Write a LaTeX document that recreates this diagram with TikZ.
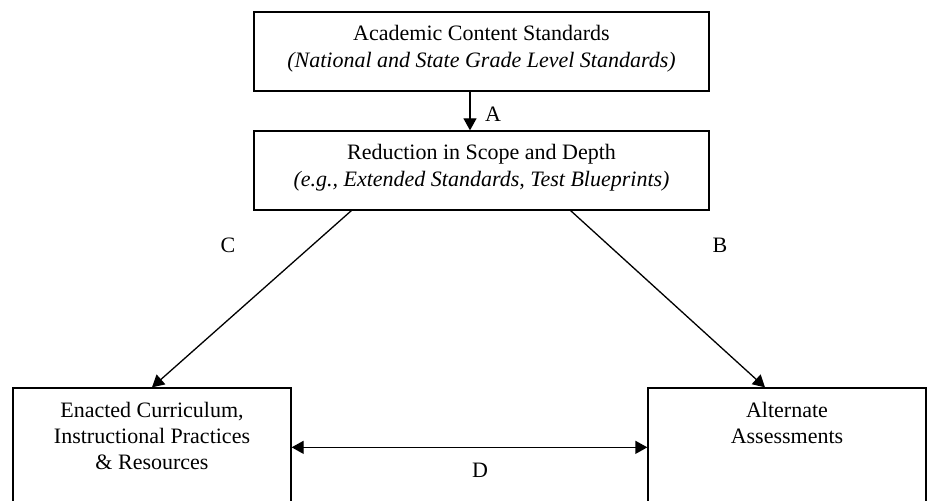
\documentclass[tikz,border=0pt]{standalone}
\usepackage{fontspec}
\setmainfont{Liberation Serif}
\usetikzlibrary{arrows.meta}

\begin{document}
\begin{tikzpicture}[x=0.5pt,y=0.5pt,yscale=-1,xscale=1,
  font=\fontsize{11}{13.5}\selectfont,
  widebox/.style={draw, line width=0.65pt, minimum width=227.5pt, minimum height=39.5pt, inner sep=0pt, align=center},
  tallbox/.style={draw, line width=0.65pt, minimum width=139pt, minimum height=71pt, inner sep=0pt},
  boxtext/.style={anchor=north, inner sep=0pt, align=center, font=\fontsize{11}{13}\selectfont},
  lbl/.style={inner sep=0pt},
  arr/.style={line width=0.65pt, -{Triangle[length=6pt,width=6.5pt]}},
  dblarr/.style={line width=0.65pt, {Triangle[length=6pt,width=6.5pt]}-{Triangle[length=6pt,width=6.5pt]}}]
\clip (0,0) rectangle (934,501);

%Shape: Rectangle [id:acs]
\node[widebox] (acs) at (481.5,51.5) {Academic Content Standards\\ \textit{(National and State Grade Level Standards)}\\[-8.5pt]};
%Shape: Rectangle [id:red]
\node[widebox] (red) at (481.5,170.5) {Reduction in Scope and Depth\\ \textit{(e.g., Extended Standards, Test Blueprints)}\\[-8.5pt]};
%Shape: Rectangle [id:enact]
\node[tallbox] (enact) at (152,459) {};
%Shape: Rectangle [id:alt]
\node[tallbox] (alt) at (787,459) {};

% Text Node
\node[boxtext] (enacttext) at ([yshift=7pt]enact.north) {Enacted Curriculum,\\ Instructional Practices\\ \& Resources};
% Text Node
\node[boxtext] (alttext) at ([yshift=7pt]alt.north) {Alternate\\ Assessments};

%Straight Lines [id:A]
\draw[arr] ([xshift=-5.75pt]acs.south) -- ([xshift=-5.75pt]red.north);
%Straight Lines [id:C]
\draw[arr] ([xshift=49pt]red.south west) -- (enact.north);
%Straight Lines [id:B]
\draw[arr] ([xshift=-69.5pt]red.south east) -- ([xshift=-11pt]alt.north);
%Straight Lines [id:D]
\draw[dblarr] ([yshift=30pt]enact.north east) -- ([yshift=30pt]alt.north west);

% Text Node
\node[lbl] (labA) at (493,114) {A};
% Text Node
\node[lbl] (labC) at (228,245) {C};
% Text Node
\node[lbl] (labB) at (720,245) {B};
% Text Node
\node[lbl] (labD) at (480,470) {D};

\end{tikzpicture}
\end{document}
